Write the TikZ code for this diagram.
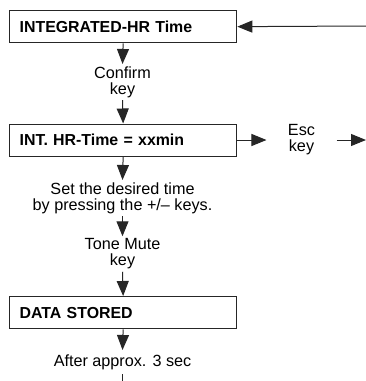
\documentclass[tikz,border=0pt]{standalone}
\usepackage{fontspec}
\setmainfont{Liberation Sans}
\usetikzlibrary{arrows.meta}
\begin{document}
\begin{tikzpicture}[x=1pt,y=-1pt,
  line width=1pt,
  stagebox/.style={draw=black!85,line width=1.3pt,minimum width=227pt,minimum height=32pt,
    inner xsep=10pt,inner ysep=0pt,text width=207pt,align=left,anchor=north west,
    font=\fontsize{15.9}{16}\selectfont\bfseries},
  lbl/.style={align=center,inner xsep=0pt,inner ysep=2pt,
    font=\fontsize{16.2}{16}\selectfont},
  arr/.style={draw=black!85,-{Triangle[length=15pt,width=12pt]}},
  ln/.style={draw=black!85}]
\useasboundingbox (0,0) rectangle (366,381);
\node[stagebox] (b1) at (9,10) {INTEGRATED-HR Time};
\node[stagebox] (b2) at (9,123.5) {INT. HR-Time = xxmin};
\node[stagebox] (b3) at (9,296) {DATA STORED};
\node[lbl] (confirm) at (122.5,82) {Confirm\\key};
\node[lbl] (set) at (122.5,198) {Set the desired time\\by pressing the +/– keys.};
\node[lbl] (tone) at (122.5,254) {Tone Mute\\key};
\node[lbl,inner ysep=4pt] (after) at (122.5,362) {After approx. 3 sec};
\node[lbl,inner xsep=21pt] (esc) at (301.5,140) {Esc\\key};
\coordinate (ret) at (366,26);
\coordinate (out) at (366,140);
\coordinate (down) at (122.5,381);
\draw[arr] (ret) -- (b1.east);
\draw[arr] (b1.south) -- (confirm.north);
\draw[arr] (confirm.south) -- (b2.north);
\draw[arr] (b2.south) -- (set.north);
\draw[arr] (set.south) -- (tone.north);
\draw[arr] (tone.south) -- (b3.north);
\draw[arr] (b3.south) -- (after.north);
\draw[ln] (after.south) -- (down);
\draw[arr] (b2.east |- esc.west) -- (esc.west);
\draw[arr] (esc.east) -- (out);
\end{tikzpicture}
\end{document}
